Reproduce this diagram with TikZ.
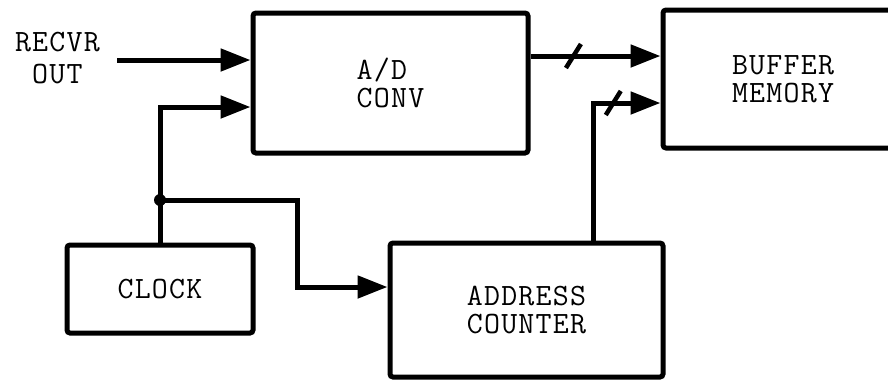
\documentclass[tikz,border=0pt]{standalone}
\usepackage{fontspec}
\setmonofont{Latin Modern Mono}[LetterSpace=4]
\usetikzlibrary{arrows.meta}

\begin{document}
\begin{tikzpicture}[x=1pt, y=-1pt,
    blk/.style={draw, line width=5pt, rounded corners=3pt, inner sep=0pt,
      font=\ttfamily\fontsize{31}{28}\selectfont, align=left},
    lbl/.style={inner sep=0pt, font=\ttfamily\fontsize{31}{32}\selectfont, align=center},
    sig/.style={line width=5pt, -{Triangle[length=30pt, width=22pt]}},
    wire/.style={line width=4.5pt}]
  \useasboundingbox (0,0) rectangle (888,381);
  \clip (0,0) rectangle (888,381);
  % blocks
  \node[blk, minimum width=275pt, minimum height=140pt] (adconv) at (390.5,83) {A/D\\CONV};
  \node[blk, minimum width=240pt, minimum height=138pt] (buffer) at (783,79) {BUFFER\\MEMORY};
  \node[blk, minimum width=186pt, minimum height=88pt] (clock) at (160,289) {CLOCK};
  \node[blk, minimum width=273pt, minimum height=134pt] (addr) at (526.5,310) {ADDRESS\\COUNTER};
  \node[lbl, anchor=east] (recvr) at (100,58) {RECVR\\OUT};
  % signals
  \draw[sig] ([xshift=17pt]recvr.east |- 0,60) -- (adconv.west |- 0,60);
  \draw[sig] (clock.north) |- ([yshift=-24pt]adconv.west);
  \coordinate (split) at (clock.north |- 0,200);
  \coordinate (bend) at (297,200);
  \draw[sig] (split) -- (bend) |- ([yshift=23pt]addr.west);
  \fill (split) circle (6pt);
  \draw[sig] ([yshift=27pt]adconv.east) -- coordinate[pos=0.33] (bus1) (buffer.west |- 0,56);
  \draw[sig] ([xshift=66.5pt]addr.north) |- coordinate[pos=0.65] (bus2) ([yshift=-24pt]buffer.west);
  % bus marks
  \draw[wire] (bus1) ++(-7.5,12) -- ++(15,-24);
  \draw[wire] (bus2) ++(-7.5,12) -- ++(15,-24);
\end{tikzpicture}
\end{document}
